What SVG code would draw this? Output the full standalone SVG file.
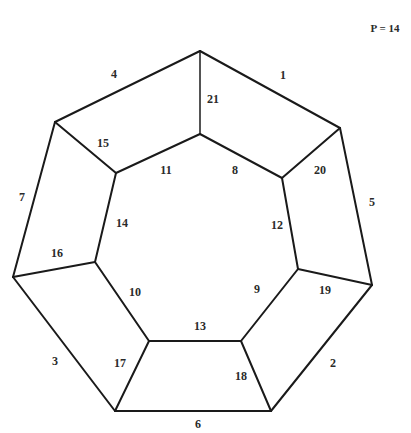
<svg xmlns="http://www.w3.org/2000/svg" width="411" height="433" viewBox="0 0 411 433">
<style>
.e{stroke:#1a1a1a;stroke-width:2;stroke-linecap:round;fill:none}
.t{font-family:"Liberation Serif",serif;font-size:12px;font-weight:bold;fill:#2a2a2a;text-anchor:middle;dominant-baseline:central}
</style>
<rect width="411" height="433" fill="#ffffff"/>
<g id="connectors">
<line class="e" x1="200" y1="51" x2="340" y2="128"/>
<line class="e" x1="340" y1="128" x2="372" y2="285"/>
<line class="e" x1="372" y1="285" x2="271" y2="411"/>
<line class="e" x1="271" y1="411" x2="115" y2="411"/>
<line class="e" x1="115" y1="411" x2="13" y2="277"/>
<line class="e" x1="13" y1="277" x2="55" y2="122"/>
<line class="e" x1="55" y1="122" x2="200" y2="51"/>
<line class="e" x1="200" y1="134" x2="282" y2="178"/>
<line class="e" x1="282" y1="178" x2="298" y2="269"/>
<line class="e" x1="298" y1="269" x2="241" y2="341"/>
<line class="e" x1="241" y1="341" x2="149" y2="341"/>
<line class="e" x1="149" y1="341" x2="95" y2="262"/>
<line class="e" x1="95" y1="262" x2="116" y2="173"/>
<line class="e" x1="116" y1="173" x2="200" y2="134"/>
<line class="e" x1="200" y1="51" x2="200" y2="134" style="stroke-width:1.5"/>
<line class="e" x1="340" y1="128" x2="282" y2="178"/>
<line class="e" x1="372" y1="285" x2="298" y2="269"/>
<line class="e" x1="271" y1="411" x2="241" y2="341"/>
<line class="e" x1="115" y1="411" x2="149" y2="341"/>
<line class="e" x1="13" y1="277" x2="95" y2="262"/>
<line class="e" x1="55" y1="122" x2="116" y2="173"/>
</g>
<g id="labels">
<text class="t" x="114" y="74">4</text>
<text class="t" x="283" y="75">1</text>
<text class="t" x="213" y="99">21</text>
<text class="t" x="103" y="143">15</text>
<text class="t" x="166" y="170">11</text>
<text class="t" x="235" y="170">8</text>
<text class="t" x="320" y="170">20</text>
<text class="t" x="22" y="197">7</text>
<text class="t" x="372" y="202">5</text>
<text class="t" x="122" y="223">14</text>
<text class="t" x="277" y="225">12</text>
<text class="t" x="57" y="253">16</text>
<text class="t" x="135" y="292">10</text>
<text class="t" x="257" y="289">9</text>
<text class="t" x="325" y="290">19</text>
<text class="t" x="200" y="326">13</text>
<text class="t" x="55" y="361">3</text>
<text class="t" x="120" y="363">17</text>
<text class="t" x="241" y="376">18</text>
<text class="t" x="333" y="363">2</text>
<text class="t" x="198" y="424">6</text>
<text class="t" x="385" y="28" style="font-size:11px">P = 14</text>
</g>
</svg>
